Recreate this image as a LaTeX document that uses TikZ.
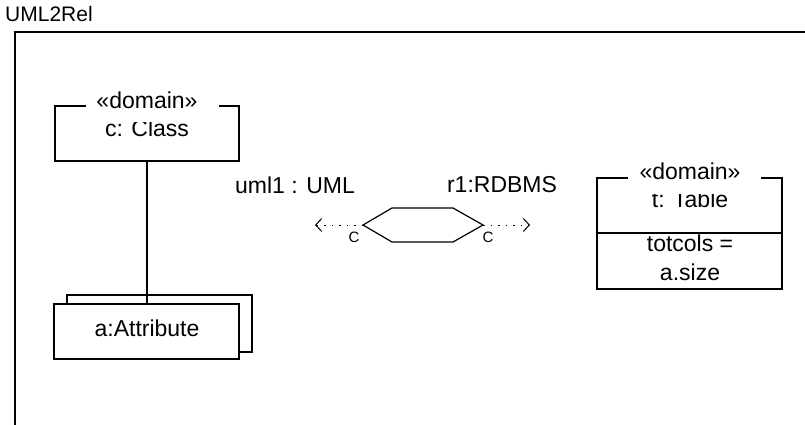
\documentclass[tikz,border=0pt]{standalone}
\usepackage{fontspec}
\setmainfont{Liberation Sans}
\usetikzlibrary{arrows.meta}
\begin{document}
\begin{tikzpicture}[x=1pt,y=-1pt,
  ln/.style={line width=1.2pt,line cap=rect},
  txt/.style={font=\fontsize{23}{27}\selectfont,inner sep=0pt},
  ttl/.style={font=\fontsize{21}{25}\selectfont,inner sep=0pt},
  small/.style={font=\fontsize{15}{17}\selectfont,inner sep=0pt},
  dotarrow/.style={line width=1pt,dash pattern=on 1.5pt off 6pt,-{Straight Barb[length=6pt,width=13pt,line width=1pt]}}]
\useasboundingbox (0,0) rectangle (805,425);
% frame
\node[ttl,anchor=west] (title) at (5,14) {UML2Rel};
\draw[ln] (15,426) -- (15,32) -- (806,32);
% class box
\draw[ln] (85,106) -- (55,106) -- (55,161) -- (239,161) -- (239,106) -- (220,106);
\node[txt] (cdom) at (147,100) {«domain»};
\begin{scope}
\clip (56,123) rectangle (238,160);
\node[txt,anchor=base] (cls) at (147,136.5) {c: Class};
\end{scope}
\coordinate (cbot) at (147,161);
% attribute
\draw[ln] (67,295) rectangle (252,352);
\draw[ln,fill=white] (54,304) rectangle (239,359);
\node[txt] (attr) at (147,328) {a:Attribute};
\coordinate (atop) at (147,304);
\draw[ln] (cbot) -- (atop);
% relation
\coordinate (hl) at (363,225);
\coordinate (hr) at (483,225);
\draw[ln,line cap=butt,line join=miter] (hl) -- (392,208) -- (453,208) -- (hr) -- (453,242) -- (392,242) -- cycle;
\coordinate (al) at (315,225);
\coordinate (ar) at (530,225);
\draw[dotarrow] (hl) -- (al);
\draw[dotarrow] (hr) -- (ar);
\node[small] (c1) at (354,237) {C};
\node[small] (c2) at (488,237) {C};
\node[txt] (uml) at (295,185) {uml1 : UML};
\node[txt] (rdb) at (502,185) {r1:RDBMS};
% table box
\draw[ln] (627,178) -- (597,178) -- (597,289) -- (782,289) -- (782,178) -- (762,178);
\draw[ln] (597,233) -- (782,233);
\node[txt] (tdom) at (690,171) {«domain»};
\begin{scope}
\clip (598,194) rectangle (781,232);
\node[txt,anchor=base] (tab) at (690,207.5) {t: Table};
\end{scope}
\node[txt] (tc) at (690,243) {totcols =};
\node[txt] (as) at (690,272) {a.size};
\end{tikzpicture}
\end{document}
